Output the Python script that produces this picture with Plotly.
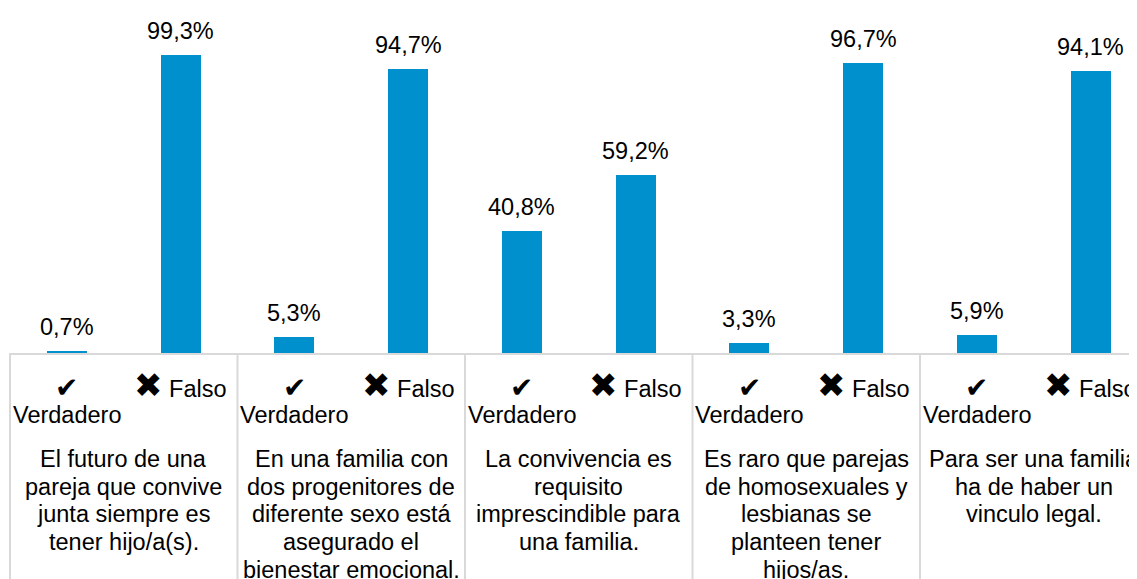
import plotly.graph_objects as go

# ---- data ----
statements = [
    ["El futuro de una", "pareja que convive", "junta siempre es", "tener hijo/a(s)."],
    ["En una familia con", "dos progenitores de", "diferente sexo está", "asegurado el", "bienestar emocional."],
    ["La convivencia es", "requisito", "imprescindible para", "una familia."],
    ["Es raro que parejas", "de homosexuales y", "lesbianas se", "planteen tener", "hijos/as."],
    ["Para ser una familia", "ha de haber un", "vinculo legal."],
]
answers = ["Verdadero", "Falso"]
answer_icons = ["✔", "✖"]
verdadero = [0.7, 5.3, 40.8, 3.3, 5.9]
falso = [99.3, 94.7, 59.2, 96.7, 94.1]

# ---- styling ----
W, H = 1137, 579
BAR_COLOR = "#0090cd"
TXT = "#000000"
GRID = "#d9d9d9"
FONT = "Liberation Sans, Arial, DejaVu Sans, sans-serif"
FS = 23.5
SLOT_PX = 113.75
ML, MB = 1, 234
PX_PER_UNIT = 3.0

xs, ys = [], []
for g in range(len(statements)):
    xs += [2 * g, 2 * g + 1]
    ys += [verdadero[g], falso[g]]

plot_w = W - ML
x0 = -0.5 - 1 / SLOT_PX
x_range = [x0, x0 + plot_w / SLOT_PX]
y_range = [0, (H - MB) / PX_PER_UNIT]

fig = go.Figure(
    go.Bar(
        x=xs, y=ys, width=0.352, marker=dict(color=BAR_COLOR, line=dict(width=0)),
        hoverinfo="skip", showlegend=False,
    )
)

ann = []
# value labels
for x, v in zip(xs, ys):
    ann.append(dict(
        x=x, y=v, xref="x", yref="y", text=f"{v:.1f}%".replace(".", ","),
        showarrow=False, yanchor="middle", xanchor="center", yshift=24,
        font=dict(family=FONT, size=FS, color=TXT),
    ))

# answer labels
for g in range(len(statements)):
    xv, xf = 2 * g, 2 * g + 1
    ann.append(dict(
        x=xv, y=0, xref="x", yref="paper", text=answer_icons[0],
        showarrow=False, yanchor="middle", xanchor="center", yshift=-34,
        font=dict(family="DejaVu Sans", size=28, color=TXT),
    ))
    ann.append(dict(
        x=xv, y=0, xref="x", yref="paper", text=answers[0],
        showarrow=False, yanchor="middle", xanchor="center", yshift=-62,
        font=dict(family=FONT, size=FS, color=TXT),
    ))
    ann.append(dict(
        x=xf, y=0, xref="x", yref="paper",
        text=f'<span style="font-family:DejaVu Sans;font-size:34px">{answer_icons[1]}</span> {answers[1]}',
        showarrow=False, yanchor="middle", xanchor="center", yshift=-32,
        font=dict(family=FONT, size=FS, color=TXT),
    ))
    # statement text, one line each
    for j, line in enumerate(statements[g]):
        ann.append(dict(
            x=2 * g + 0.5, y=0, xref="x", yref="paper", text=line,
            showarrow=False, yanchor="middle", xanchor="center",
            yshift=-(105.8 + 27.8 * j),
            font=dict(family=FONT, size=FS, color=TXT),
        ))

shapes = []
for g in range(len(statements) + 1):
    shapes.append(dict(
        type="line", xref="x", yref="paper", x0=2 * g - 0.5, x1=2 * g - 0.5,
        y0=0, y1=-1, line=dict(color=GRID, width=2), layer="above",
    ))

fig.update_layout(
    width=W, height=H,
    margin=dict(l=ML, r=0, t=0, b=MB, pad=0, autoexpand=False),
    paper_bgcolor="white", plot_bgcolor="white",
    xaxis=dict(range=x_range, showticklabels=False, showgrid=False, zeroline=False,
               showline=True, linecolor=GRID, linewidth=2, ticks=""),
    yaxis=dict(range=y_range, showticklabels=False, showgrid=False, zeroline=False,
               showline=False, ticks=""),
    annotations=ann, shapes=shapes,
    bargap=0,
)

fig.write_html("out.html")
